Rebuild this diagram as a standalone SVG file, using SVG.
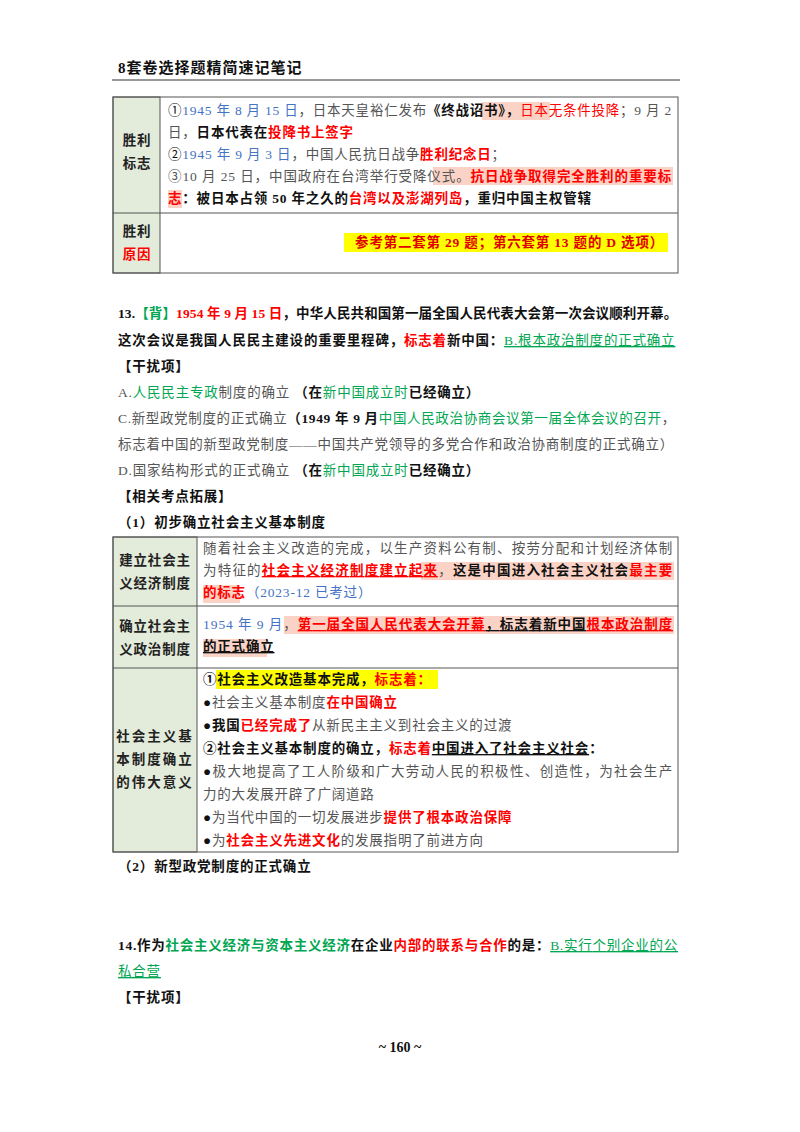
<svg xmlns="http://www.w3.org/2000/svg" width="800" height="1132" viewBox="0 0 800 1132">
<style>
text{font-family:"Liberation Serif","Noto Sans CJK SC",serif;font-size:13.5px;fill:#555;letter-spacing:0.8px}
.b{font-weight:bold;fill:#111}
.r{fill:#f00}
.bl{fill:#4472c4}
.g{fill:#00a651}
.k{fill:#111}
.lab{font-weight:bold;fill:#222;text-anchor:middle;font-size:13.5px}
.cell{fill:#e3ebda;stroke:#555;stroke-width:1}
.box{fill:none;stroke:#555;stroke-width:1}
.hl{fill:#fbd3c6}
.hy{fill:#ffff00}
.u{text-decoration:underline}
</style>
<rect width="800" height="1132" fill="#fff"/>
<g id="header">
<text x="118" y="73" class="b" style="font-size:15px;letter-spacing:1px">8套卷选择题精简速记笔记</text>
<line x1="112" y1="80" x2="680" y2="80" stroke="#333" stroke-width="1"/>
</g>
<g id="table1">
<rect class="cell" x="113" y="97" width="47" height="176"/>
<rect class="box" x="113" y="97" width="565" height="176"/>
<line x1="113" y1="213" x2="678" y2="213" stroke="#555"/>
<rect class="hl" x="482" y="102" width="68" height="18"/>
<rect class="hl" x="433" y="167" width="240" height="18"/>
<rect class="hl" x="168" y="190" width="14" height="18"/>
<rect class="hy" x="344" y="233" width="324" height="19"/>
<text x="137" y="145" class="lab">胜利</text>
<text x="137" y="168" class="lab">标志</text>
<text x="137" y="236" class="lab">胜利</text>
<text x="137" y="259" class="lab" style="fill:#f00">原因</text>
<text x="168" y="115" textLength="504" lengthAdjust="spacing"><tspan class="k">①</tspan><tspan class="bl">1945 年 8 月 15 日</tspan>，日本天皇裕仁发布<tspan class="b">《终战诏书》，</tspan><tspan class="r">日本无条件投降</tspan>；9 月 2</text>
<text x="168" y="137">日，<tspan class="b">日本代表在</tspan><tspan class="b" style="fill:#f00">投降书上签字</tspan></text>
<text x="168" y="159"><tspan class="k">②</tspan><tspan class="bl">1945 年 9 月 3 日</tspan>，中国人民抗日战争<tspan class="b" style="fill:#f00">胜利纪念日</tspan>；</text>
<text x="168" y="181" textLength="504" lengthAdjust="spacing">③10 月 25 日，中国政府在台湾举行受降仪式。<tspan class="b" style="fill:#f00">抗日战争取得完全胜利的重要标</tspan></text>
<text x="168" y="203"><tspan class="b" style="fill:#f00">志</tspan><tspan class="b">：被日本占领 50 年之久的</tspan><tspan class="b" style="fill:#f00">台湾以及澎湖列岛</tspan><tspan class="b">，重归中国主权管辖</tspan></text>
<text x="664" y="247" text-anchor="end" class="b" style="fill:#e00000">参考第二套第 29 题；第六套第 13 题的 D 选项）</text>
</g>
<g id="q13">
<text x="118" y="318" class="b" textLength="560" lengthAdjust="spacing">13.<tspan class="g">【背】</tspan><tspan class="r">1954 年 9 月 15 日</tspan>，中华人民共和国第一届全国人民代表大会第一次会议顺利开幕。</text>
<text x="118" y="345" class="b">这次会议是我国人民民主建设的重要里程碑，<tspan class="r">标志着</tspan>新中国：<tspan class="g u" style="font-weight:normal">B.根本政治制度的正式确立</tspan></text>
<text x="118" y="371" class="b">【干扰项】</text>
<text x="118" y="397">A.<tspan class="g">人民民主专政</tspan>制度的确立  <tspan class="b">（在</tspan><tspan class="g">新中国成立时</tspan><tspan class="b">已经确立）</tspan></text>
<text x="118" y="423" textLength="558" lengthAdjust="spacing">C.新型政党制度的正式确立<tspan class="b">（1949 年 9 月</tspan><tspan class="g">中国人民政治协商会议第一届全体会议的召开</tspan>，</text>
<text x="118" y="449" textLength="556" lengthAdjust="spacing">标志着中国的新型政党制度——中国共产党领导的多党合作和政治协商制度的正式确立）</text>
<text x="118" y="475">D.国家结构形式的正式确立   <tspan class="b">（在</tspan><tspan class="g">新中国成立时</tspan><tspan class="b">已经确立）</tspan></text>
<text x="118" y="501" class="b">【相关考点拓展】</text>
<text x="118" y="527" class="b">（1）初步确立社会主义基本制度</text>
</g>
<g id="table2">
<rect class="cell" x="113" y="537" width="84" height="315"/>
<rect class="box" x="113" y="537" width="565" height="315"/>
<line x1="113" y1="606" x2="678" y2="606" stroke="#555"/>
<line x1="113" y1="668" x2="678" y2="668" stroke="#555"/>
<rect class="hl" x="421" y="562" width="253" height="18"/>
<rect class="hl" x="203" y="585" width="37" height="18"/>
<rect class="hl" x="284" y="616" width="390" height="18"/>
<rect class="hl" x="203" y="639" width="64" height="18"/>
<rect class="hy" x="216" y="670" width="222" height="19"/>
<text x="155" y="565" class="lab">建立社会主</text>
<text x="155" y="588" class="lab">义经济制度</text>
<text x="155" y="631" class="lab">确立社会主</text>
<text x="155" y="654" class="lab">义政治制度</text>
<text x="155" y="741" class="lab" style="letter-spacing:2px">社会主义基</text>
<text x="155" y="764" class="lab" style="letter-spacing:2px">本制度确立</text>
<text x="155" y="787" class="lab" style="letter-spacing:2px">的伟大意义</text>
<text x="203" y="553" textLength="470" lengthAdjust="spacing">随着社会主义改造的完成，以生产资料公有制、按劳分配和计划经济体制</text>
<text x="203" y="575" textLength="470" lengthAdjust="spacing">为特征的<tspan class="b u" style="fill:#f00">社会主义经济制度建立起来</tspan>，<tspan class="b">这是中国进入社会主义社会</tspan><tspan class="b" style="fill:#f00">最主要</tspan></text>
<text x="203" y="597"><tspan class="b" style="fill:#f00">的标志</tspan><tspan class="bl">（2023-12 已考过）</tspan></text>
<text x="203" y="629" textLength="470" lengthAdjust="spacing"><tspan class="bl">1954 年 9 月</tspan>，<tspan class="b u" style="fill:#f00">第一届全国人民代表大会开幕</tspan><tspan class="b u">，标志着新中国</tspan><tspan class="b u" style="fill:#f00">根本政治制度</tspan></text>
<text x="203" y="651" class="b u">的正式确立</text>
<text x="203" y="684" class="b">①社会主义改造基本完成，<tspan class="r">标志着：</tspan></text>
<text x="203" y="707"><tspan class="k">●</tspan>社会主义基本制度<tspan class="b" style="fill:#f00">在中国确立</tspan></text>
<text x="203" y="730"><tspan class="b">●我国</tspan><tspan class="b" style="fill:#f00">已经完成了</tspan>从新民主主义到社会主义的过渡</text>
<text x="203" y="753" class="b">②社会主义基本制度的确立，<tspan class="r">标志着</tspan><tspan class="u">中国进入了社会主义社会</tspan>：</text>
<text x="203" y="776" textLength="470" lengthAdjust="spacing"><tspan class="k">●</tspan>极大地提高了工人阶级和广大劳动人民的积极性、创造性，为社会生产</text>
<text x="203" y="799">力的大发展开辟了广阔道路</text>
<text x="203" y="822"><tspan class="k">●</tspan>为当代中国的一切发展进步<tspan class="b" style="fill:#f00">提供了根本政治保障</tspan></text>
<text x="203" y="845"><tspan class="k">●</tspan>为<tspan class="b" style="fill:#f00">社会主义先进文化</tspan>的发展指明了前进方向</text>
</g>
<g id="q14">
<text x="118" y="871" class="b">（2）新型政党制度的正式确立</text>
<text x="118" y="950" class="b" textLength="560" lengthAdjust="spacing">14.作为<tspan class="g">社会主义经济与资本主义经济</tspan>在企业<tspan class="r">内部的联系与合作</tspan>的是：<tspan class="g u" style="font-weight:normal">B.实行个别企业的公</tspan></text>
<text x="118" y="976" class="g u">私合营</text>
<text x="118" y="1002" class="b">【干扰项】</text>
<text x="400" y="1052" text-anchor="middle" class="b" style="font-size:14px;letter-spacing:0">~ 160 ~</text>
</g>
</svg>
